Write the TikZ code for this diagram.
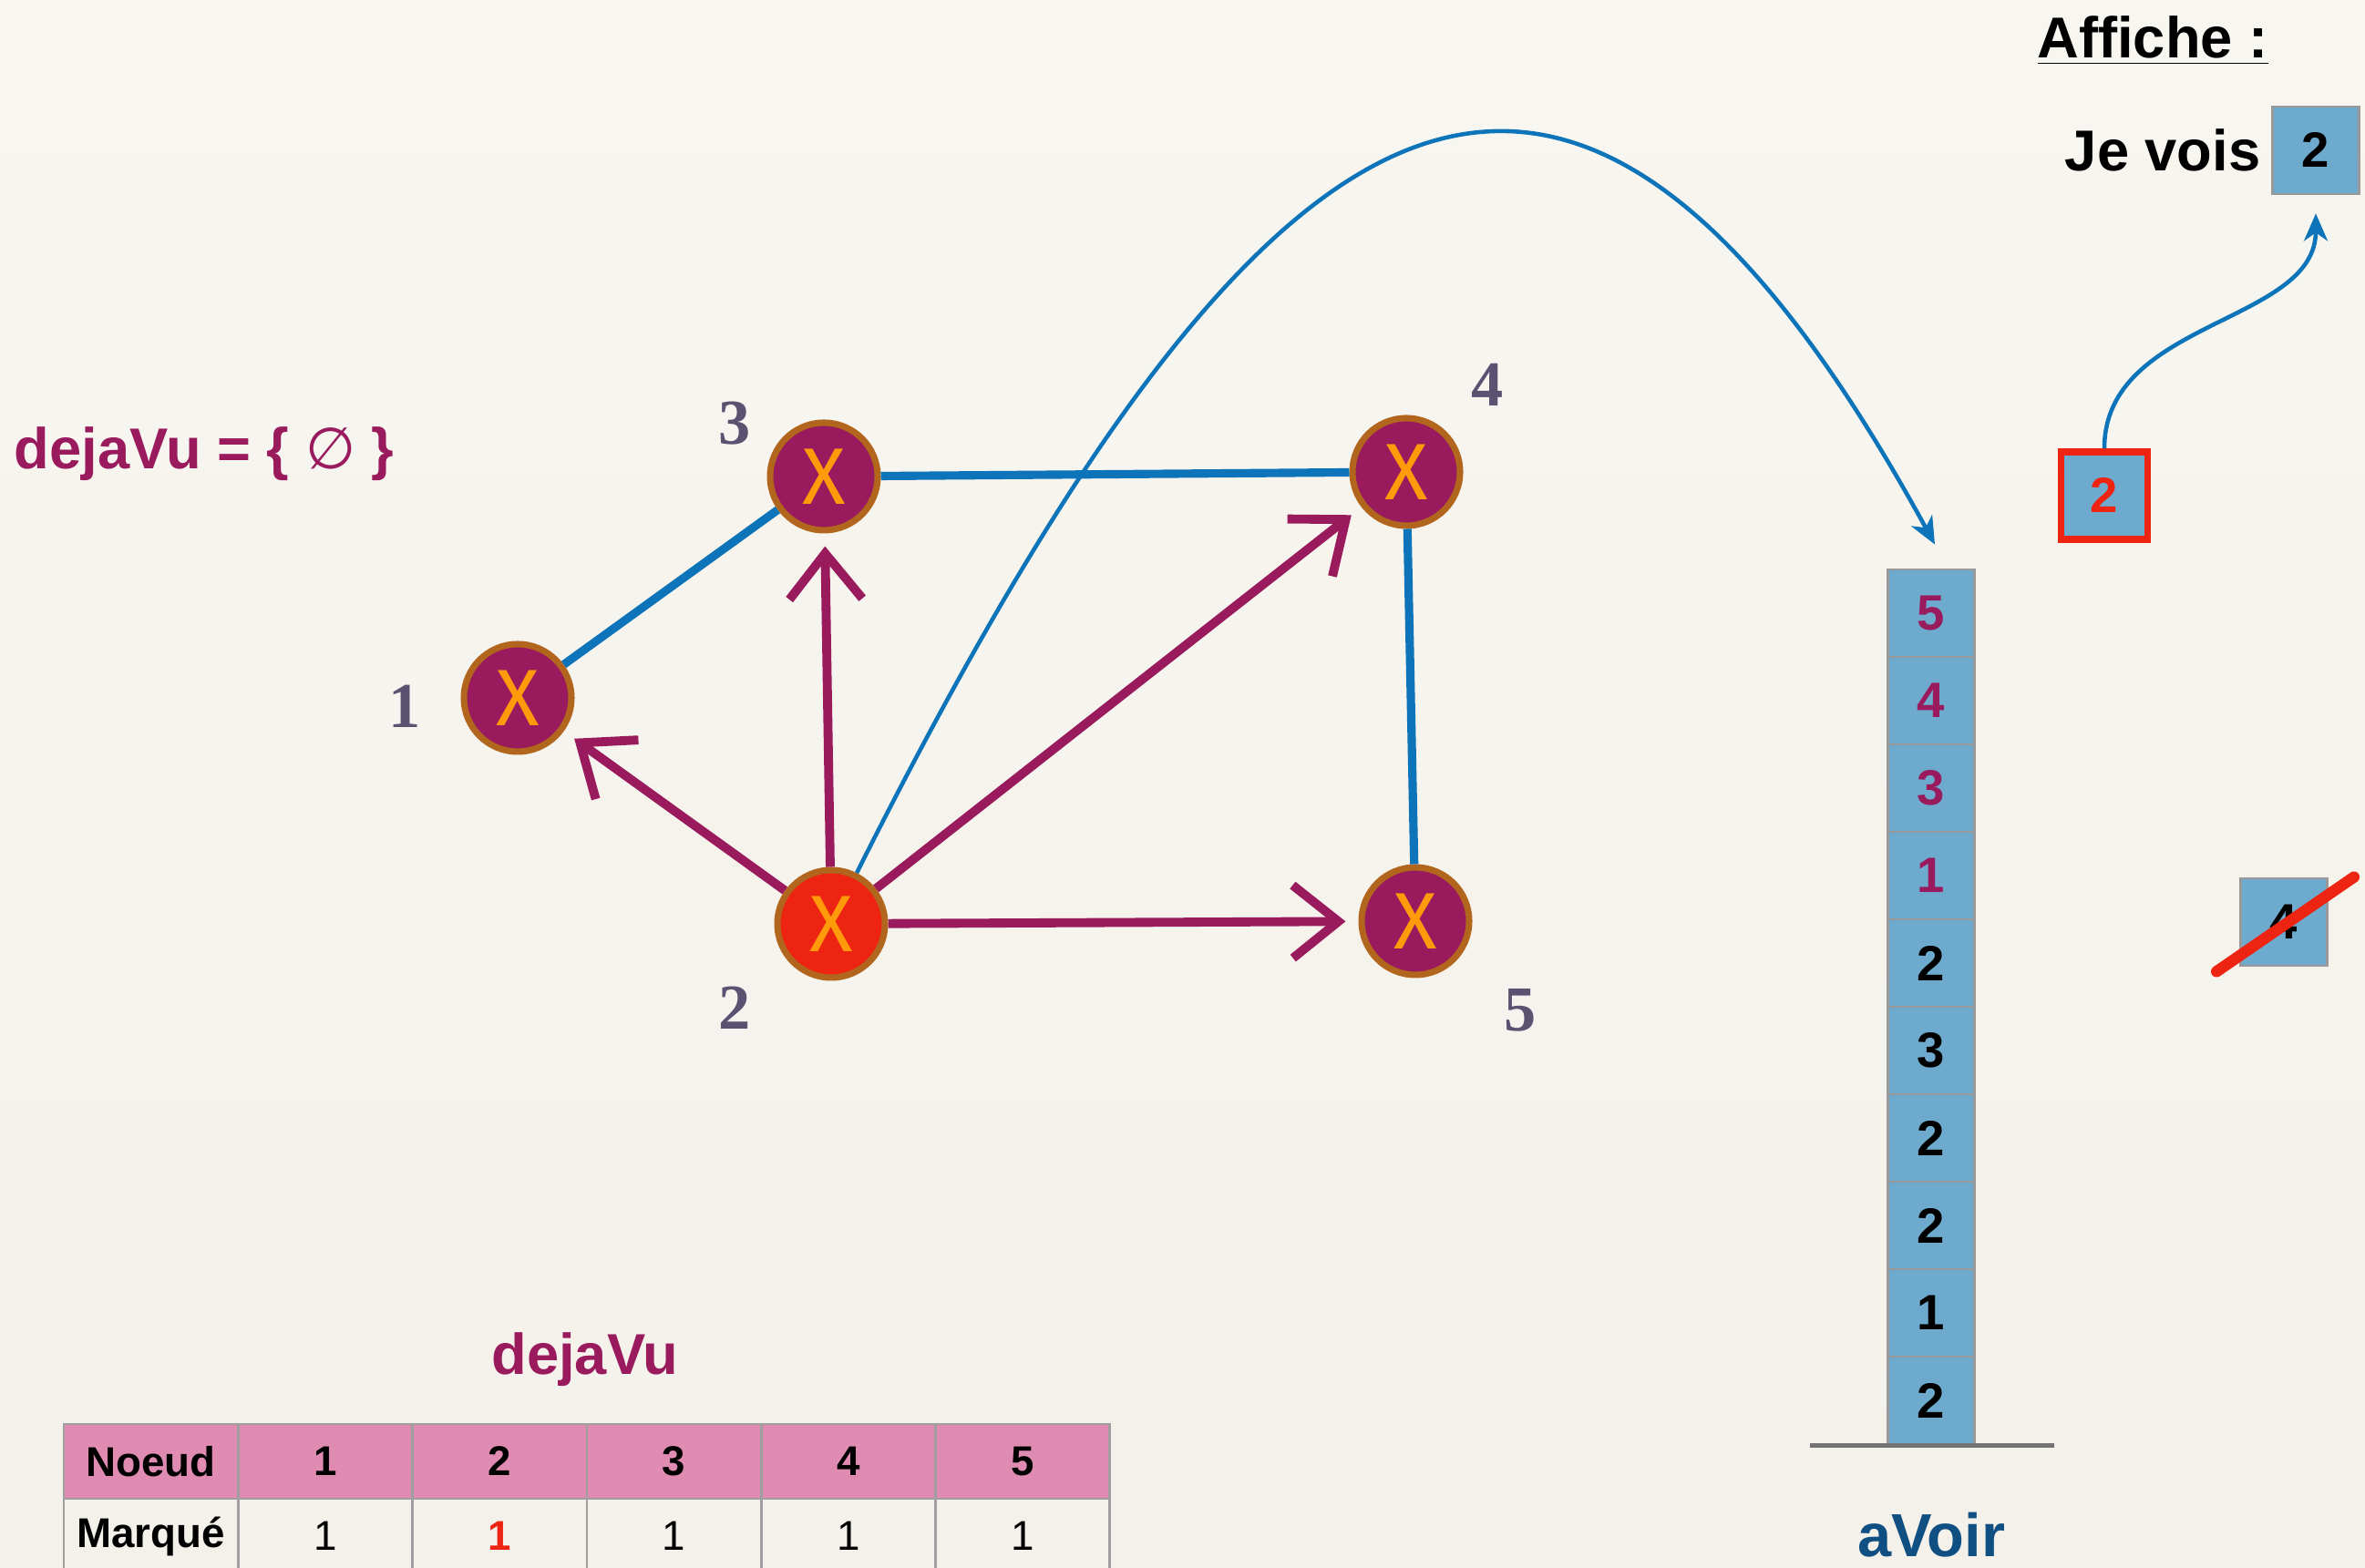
\documentclass[tikz,border=0pt]{standalone}
\usepackage{fontspec}
\setmainfont{Liberation Sans}
\newfontfamily\seriffont{Liberation Serif}
\newfontfamily\croixfont{Fira Sans}
\newfontfamily\symbfont{DejaVu Sans}
\usepackage{xcolor}
\usetikzlibrary{arrows.meta,positioning,calc}

\definecolor{prune}{HTML}{9A1A5E}
\definecolor{bordure}{HTML}{B2651C}
\definecolor{orangex}{HTML}{FF9A0A}
\definecolor{rouge}{HTML}{EE2412}
\definecolor{bleu}{HTML}{0E74BA}
\definecolor{bleupile}{HTML}{6EAACE}
\definecolor{bleufonce}{HTML}{0F4F82}
\definecolor{rose}{HTML}{E08CB2}
\definecolor{gris}{HTML}{5B5272}
\definecolor{fondhaut}{HTML}{F8F6F0}
\definecolor{fondmilieu}{HTML}{E3DFD9}
\definecolor{fondbas}{HTML}{F4F1EB}

\begin{document}
\begin{tikzpicture}[
  sommet/.style={circle,draw=bordure,line width=2pt,fill=prune,minimum size=1.18cm,inner sep=0pt,text=orangex,font=\croixfont\fontsize{25}{25}\selectfont},
  etiq/.style={text=gris,font=\seriffont\bfseries\fontsize{20}{20}\selectfont},
  arete/.style={bleu,line width=2.6pt},
  fleche/.style={prune,line width=2.8pt,-{Straight Barb[length=5mm,width=8mm]},shorten >=4pt},
  courbe/.style={bleu,line width=1.3pt,-{Stealth[length=3mm,width=2.6mm,inset=0.9mm]}},
  case/.style={draw=gray!80,line width=0.8pt,fill=bleupile,minimum width=0.95cm,minimum height=0.96cm,inner sep=0pt,font=\bfseries\fontsize{15.5}{15.5}\selectfont},
  cellule/.style={draw=gray!75,line width=0.8pt,minimum width=1.913cm,minimum height=0.82cm,inner sep=0pt,font=\fontsize{13}{13}\selectfont},
  titre/.style={inner sep=0pt,font=\bfseries\fontsize{18}{18}\selectfont}
]
\useasboundingbox (0,0) rectangle (25.95,17.21);
\shade[top color=fondhaut,middle color=fondmilieu,bottom color=fondbas] (0,0) rectangle (25.95,17.21);

% graphe
\node[sommet] (n1) at (5.68,9.55) {X};
\node[sommet,fill=rouge] (n2) at (9.12,7.07) {X};
\node[sommet] (n3) at (9.04,11.98) {X};
\node[sommet] (n4) at (15.43,12.03) {X};
\node[sommet] (n5) at (15.53,7.10) {X};

\node[etiq] (e1) at (4.44,9.46) {1};
\node[etiq] (e2) at (8.06,6.15) {2};
\node[etiq] (e3) at (8.06,12.56) {3};
\node[etiq] (e4) at (16.32,12.99) {4};
\node[etiq] (e5) at (16.68,6.12) {5};

\draw[arete] (n1) -- (n3);
\draw[arete] (n3) -- (n4);
\draw[arete] (n4) -- (n5);

\foreach \v in {n1,n3,n4,n5}
  \draw[fleche] (n2) -- (\v);

\node[titre,text=prune,anchor=base west] (ensemble) at (0.15,12.06) {dejaVu = \{ {\symbfont\mdseries ∅} \}};

% pile aVoir
\foreach \v [count=\i] in {2,1,2,2,3,2,1,3,4,5}{
  \ifnum\i>6 \def\c{prune}\else\def\c{black}\fi
  \node[case,text=\c] (s\i) at (21.19,{1.84+(\i-1)*0.96}) {\v};
}
\draw[gray!90!black,line width=1.4pt] ($(s1.south)+(-1.33,0)$) -- ($(s1.south)+(1.35,0)$);
\node[titre,text=bleufonce,font=\bfseries\fontsize{19}{19}\selectfont,anchor=base] (avoir) at (21.19,0.12) {aVoir};

\coordinate (entree) at ($(s10.north)+(0.04,0.26)$);
\draw[courbe] (n2) .. controls (13.9,16.6) and (17.2,18.6) .. (entree);

% affichage
\node[titre,anchor=base] (affiche) at (23.62,16.57) {\underline{Affiche :}};
\node[case] (vu) at (25.41,15.56) {2};
\node[titre,left=0.11cm of vu] (jevois) {Je vois};
\node[case,draw=rouge,line width=2.2pt,text=rouge] (tete) at (23.09,11.77) {2};
\draw[courbe,shorten >=0.2cm] (tete.north) to[out=90,in=-90] (vu.south);

\node[case] (barre) at (25.06,7.09) {4};
\draw[rouge,line width=3.5pt,line cap=round] ($(barre.south west)+(-0.25,-0.05)$) -- ($(barre.north east)+(0.28,0)$);

% tableau dejaVu
\node[titre,text=prune,anchor=base] (titretab) at (6.42,2.12) {dejaVu};
\foreach \t [count=\i from 0] in {Noeud,1,2,3,4,5}
  \node[cellule,fill=rose,font=\bfseries\fontsize{13}{13}\selectfont] (h\i) at ({0.70+(\i+0.5)*1.913},1.17) {\t};
\foreach \t [count=\i from 0] in {\textbf{Marqué},1,\textcolor{rouge}{\textbf{1}},1,1,1}
  \node[cellule,fill=fondbas] (m\i) at ({0.70+(\i+0.5)*1.913},0.35) {\t};
\end{tikzpicture}
\end{document}
